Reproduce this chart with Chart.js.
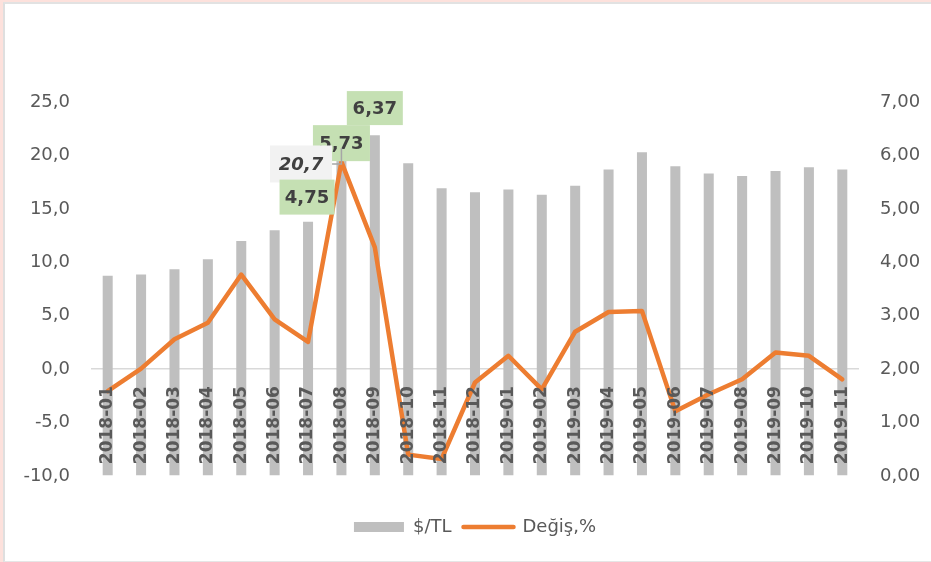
<!DOCTYPE html>
<html>
<head>
<meta charset="utf-8">
<script src="https://cdn.jsdelivr.net/npm/chart.js@4.4.1/dist/chart.umd.min.js"></script>
<style>
  body { margin: 0; background: #fff; }
  #wrap { position: relative; width: 931px; height: 562px; }
  #frame { position: absolute; left: 0; top: 0; width: 931px; height: 562px; box-sizing: border-box;
           border-left: 3px solid #fde1dc; border-top: 2px solid #fde1dc; pointer-events: none; }
  #frame2 { position: absolute; left: 3px; top: 2px; right: 0; bottom: 0; box-sizing: border-box;
            border-left: 2px solid #dfdfdf; border-top: 2px solid #e2e2e2; border-bottom: 1px solid #e6e6e6; pointer-events: none; }
</style>
</head>
<body>
<div id="wrap">
  <canvas id="chart" width="931" height="562"></canvas>
  <div id="frame"></div>
  <div id="frame2"></div>
</div>
<script>
const months = ['2018-01','2018-02','2018-03','2018-04','2018-05','2018-06','2018-07','2018-08','2018-09','2018-10','2018-11','2018-12',
                '2019-01','2019-02','2019-03','2019-04','2019-05','2019-06','2019-07','2019-08','2019-09','2019-10','2019-11']
const usdTl = [8.73, 8.86, 9.35, 10.29, 12.0, 13.0, 13.8, 20.7, 21.9, 19.27, 16.92, 16.55,
               16.8, 16.33, 17.17, 18.68, 20.3, 18.99, 18.3, 18.08, 18.55, 18.9, 18.68]
const degis = [1.59, 2.01, 2.56, 2.87, 3.77, 2.93, 2.51, 5.88, 4.28, 0.40, 0.32, 1.75,
               2.25, 1.62, 2.70, 3.07, 3.09, 1.21, 1.53, 1.81, 2.31, 2.25, 1.81]

// callout boxes (text, category index, left-axis value, x shift)
const callouts = [
  { text: '6,37', idx: 8, val: 24.43, dx: 0, w: 56, h: 34, fill: '#c5e0b3' },
  { text: '5,73', idx: 7, val: 21.15, dx: 0, w: 57, h: 36, fill: '#c5e0b3' },
  { text: '20,7', idx: 6, val: 19.2, dx: -7, w: 62, h: 37, fill: '#f2f2f2', italic: true, leader: { idx: 7, val: 20.7 } },
  { text: '4,75', idx: 6, val: 16.1, dx: -1, w: 55, h: 35, fill: '#c5e0b3' }
]

const FONT = "'DejaVu Sans', sans-serif"
const TXT = '#595959'

const extras = {
  id: 'extras',
  afterDatasetsDraw(chart) {
    const ctx = chart.ctx
    const x = chart.scales.x, y = chart.scales.y
    const y0 = y.getPixelForValue(0)
    ctx.save()
    ctx.font = 'bold 17px ' + FONT
    ctx.fillStyle = TXT
    ctx.textAlign = 'right'
    ctx.textBaseline = 'middle'
    months.forEach((m, i) => {
      ctx.save()
      ctx.translate(x.getPixelForValue(i), y0 + 17)
      ctx.rotate(-Math.PI / 2)
      ctx.fillText(m, 0, 0)
      ctx.restore()
    })
    ctx.restore()
  },
  afterDraw(chart) {
    const ctx = chart.ctx
    const x = chart.scales.x, y = chart.scales.y
    ctx.save()
    callouts.forEach(c => {
      const cx = x.getPixelForValue(c.idx) + c.dx
      const cy = y.getPixelForValue(c.val)
      if (c.leader) {
        const lx = x.getPixelForValue(c.leader.idx)
        ctx.strokeStyle = '#a6a6a6'
        ctx.lineWidth = 1.5
        ctx.beginPath()
        ctx.moveTo(cx + c.w / 2, cy)
        ctx.lineTo(lx, cy)
        ctx.lineTo(lx, y.getPixelForValue(c.leader.val))
        ctx.stroke()
      }
      ctx.fillStyle = c.fill
      ctx.fillRect(cx - c.w / 2, cy - c.h / 2, c.w, c.h)
      ctx.fillStyle = '#404040'
      ctx.font = (c.italic ? 'italic ' : '') + 'bold 18px ' + FONT
      ctx.textAlign = 'center'
      ctx.textBaseline = 'middle'
      ctx.fillText(c.text, cx, cy + 1)
    })
    ctx.restore()
  }
}

const data = {
  labels: months,
  datasets: [{
    type: 'bar',
    label: '$/TL',
    data: usdTl,
    base: -10,
    backgroundColor: '#bfbfbf',
    barPercentage: 0.3,
    categoryPercentage: 1,
    yAxisID: 'y',
    order: 1
  }, {
    type: 'line',
    label: 'Değiş,%',
    data: degis,
    borderColor: '#ed7d31',
    borderWidth: 4.5,
    borderJoinStyle: 'round',
    borderCapStyle: 'round',
    pointRadius: 0,
    tension: 0,
    yAxisID: 'y1',
    order: 0
  }]
}

const config = {
  data: data,
  options: {
    responsive: false,
    animation: false,
    layout: { padding: { top: 102, bottom: 16 } },
    plugins: {
      tooltip: { enabled: false },
      legend: {
        position: 'bottom',
        fullSize: false,
        labels: {
          usePointStyle: true,
          pointStyleWidth: 50,
          boxHeight: 10,
          padding: 12,
          color: TXT,
          font: { family: FONT, size: 18 },
          generateLabels: chart => chart.data.datasets.map((ds, i) => ({
            text: ds.label,
            datasetIndex: i,
            fillStyle: i === 0 ? '#bfbfbf' : '#ed7d31',
            strokeStyle: i === 0 ? '#bfbfbf' : '#ed7d31',
            lineWidth: i === 0 ? 0 : 4.5,
            lineCap: 'round',
            pointStyle: i === 0 ? 'rect' : 'line',
            fontColor: TXT,
            hidden: false
          }))
        }
      }
    },
    scales: {
      x: {
        ticks: { display: false },
        grid: { display: false },
        border: { display: false },
        afterFit: s => { s.height = 30 }
      },
      y: {
        position: 'left',
        min: -10, max: 25,
        ticks: { stepSize: 5, padding: 21, color: TXT, font: { family: FONT, size: 18 },
                 callback: v => v.toFixed(1).replace('.', ',') },
        grid: { drawTicks: false, lineWidth: 1.5,
                color: c => c.tick && c.tick.value === 0 ? '#d9d9d9' : 'rgba(0,0,0,0)' },
        border: { display: false },
        afterFit: s => { s.width = 91 }
      },
      y1: {
        position: 'right',
        min: 0, max: 7,
        ticks: { stepSize: 1, padding: 21, color: TXT, font: { family: FONT, size: 18 },
                 callback: v => v.toFixed(2).replace('.', ',') },
        grid: { display: false, drawTicks: false },
        border: { display: false },
        afterFit: s => { s.width = 72 }
      }
    }
  },
  plugins: [extras]
}

let ctx = document.getElementById('chart').getContext('2d')
new Chart(ctx, config)
</script>
</body>
</html>
